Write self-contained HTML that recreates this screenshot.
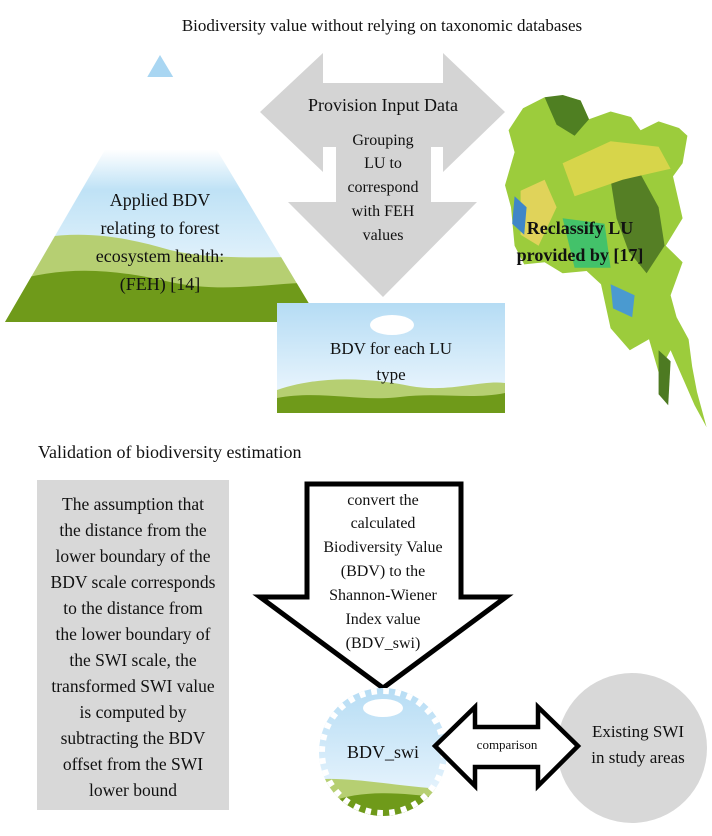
<!DOCTYPE html>
<html><head><meta charset="utf-8"><style>
html,body{margin:0;padding:0;background:#fff;}
svg{display:block;}
text{font-family:"Liberation Serif",serif;fill:#111;}
</style></head><body>
<svg width="712" height="836" viewBox="0 0 712 836" xmlns="http://www.w3.org/2000/svg">
<defs>
<linearGradient id="sky2" x1="0" y1="0" x2="0" y2="1">
<stop offset="0" stop-color="#b5dcf4"/><stop offset="1" stop-color="#f4faff"/>
</linearGradient>
<linearGradient id="tri" x1="0" y1="0" x2="0" y2="1">
<stop offset="0" stop-color="#ffffff"/><stop offset="0.35" stop-color="#ffffff"/><stop offset="0.5" stop-color="#bfe2f6"/><stop offset="1" stop-color="#ffffff"/>
</linearGradient>
<clipPath id="triclip"><polygon points="160,55 5,322 320,322"/></clipPath>
<clipPath id="badge"><circle cx="383" cy="752" r="64"/></clipPath>
</defs>

<text x="382" y="31" font-size="17" text-anchor="middle">Biodiversity value without relying on taxonomic databases</text>

<!-- triangle -->
<g clip-path="url(#triclip)">
<rect x="0" y="55" width="330" height="270" fill="url(#tri)"/>
<rect x="0" y="55" width="330" height="22" fill="#a9d6f2"/>
<rect x="0" y="77" width="330" height="35" fill="#fff"/>
<path d="M0,250 C60,225 120,235 170,250 C220,262 280,255 330,258 L330,330 L0,330Z" fill="#b6cf72"/>
<path d="M0,285 C60,265 110,268 170,282 C230,295 280,280 330,283 L330,330 L0,330Z" fill="#6f9a1a"/>
</g>
<g font-size="18" text-anchor="middle">
<text x="160" y="206">Applied BDV</text>
<text x="160" y="234">relating to forest</text>
<text x="160" y="262">ecosystem health:</text>
<text x="160" y="290">(FEH) [14]</text>
</g>

<!-- gray arrows -->
<polygon points="323,53 323,83 443,83 443,53 505,112 443,172 443,147 431,147 431,202 477,202 383,297 288,202 336,202 336,147 323,147 323,172 260,112" fill="#d4d4d4"/>
<text x="383" y="111" font-size="18" text-anchor="middle">Provision Input Data</text>
<g font-size="16" text-anchor="middle">
<text x="383" y="145">Grouping</text>
<text x="383" y="168">LU to</text>
<text x="383" y="192">correspond</text>
<text x="383" y="216">with FEH</text>
<text x="383" y="240">values</text>
</g>

<!-- map -->
<g transform="translate(505,95) scale(1.2,1.1) translate(-512,-98)">
<path d="M527,110 L545,100 L555,115 L560,98 L575,103 L582,120 L600,113 L617,118 L625,130 L640,122 L657,128 L664,135 L660,160 L652,172 L660,210 L646,235 L660,250 L650,280 L655,300 L665,320 L668,345 L672,368 L680,400 L670,380 L660,355 L650,330 L640,350 L632,320 L616,330 L600,310 L592,270 L580,258 L560,260 L545,250 L528,252 L520,235 L517,200 L512,180 L520,150 L515,130 Z" fill="#9ccc3c"/>
<path d="M545,100 L560,98 L575,103 L582,120 L570,135 L555,125 Z" fill="#4f7f22"/>
<path d="M600,175 L625,170 L640,200 L645,235 L630,260 L615,240 L605,210 Z" fill="#557f25"/>
<path d="M560,160 L600,140 L640,145 L650,165 L610,175 L570,190 Z" fill="#d7d54a"/>
<path d="M525,185 L545,175 L555,200 L540,235 L525,225 Z" fill="#e0d35a"/>
<path d="M520,190 L530,200 L528,225 L518,215Z" fill="#3f86c8"/>
<path d="M600,270 L620,280 L618,300 L602,292Z" fill="#4a9ad0"/>
<path d="M560,210 L595,215 L600,255 L570,255Z" fill="#43c26a"/>
<path d="M640,330 L650,340 L648,380 L640,370Z" fill="#4d7a22"/>
</g>
<g font-size="18" font-weight="bold" text-anchor="middle">
<text x="580" y="234">Reclassify LU</text>
<text x="580" y="261">provided by [17]</text>
</g>

<!-- BDV for each LU -->
<rect x="277" y="303" width="228" height="110" fill="url(#sky2)"/>
<ellipse cx="392" cy="325" rx="22" ry="10" fill="#fff"/>
<path d="M277,390 C320,375 370,378 410,386 C450,393 480,380 505,383 L505,413 L277,413Z" fill="#b6cf72"/>
<path d="M277,398 C320,390 360,402 400,397 C440,392 470,400 505,393 L505,413 L277,413Z" fill="#6f9a1a"/>
<g font-size="17" text-anchor="middle">
<text x="391" y="354">BDV for each LU</text>
<text x="391" y="380">type</text>
</g>

<text x="38" y="458" font-size="18">Validation of biodiversity estimation</text>

<!-- gray text box -->
<rect x="37" y="480" width="192" height="330" fill="#d8d8d8"/>
<g font-size="17.5" text-anchor="middle">
<text x="133" y="510">The assumption that</text>
<text x="133" y="536">the distance from the</text>
<text x="133" y="562">lower boundary of the</text>
<text x="133" y="588">BDV scale corresponds</text>
<text x="133" y="614">to the distance from</text>
<text x="133" y="640">the lower boundary of</text>
<text x="133" y="666">the SWI scale, the</text>
<text x="133" y="692">transformed SWI value</text>
<text x="133" y="718">is computed by</text>
<text x="133" y="744">subtracting the BDV</text>
<text x="133" y="770">offset from the SWI</text>
<text x="133" y="796">lower bound</text>
</g>

<!-- outline down arrow -->
<polygon points="307,484 461,484 461,597 506,597 383,688 260,597 307,597" fill="#fff" stroke="#000" stroke-width="5" stroke-linejoin="miter"/>
<g font-size="16" text-anchor="middle">
<text x="383" y="505">convert the</text>
<text x="383" y="528">calculated</text>
<text x="383" y="552">Biodiversity Value</text>
<text x="383" y="576">(BDV) to the</text>
<text x="383" y="600">Shannon-Wiener</text>
<text x="383" y="624">Index value</text>
<text x="383" y="648">(BDV_swi)</text>
</g>

<!-- badge -->
<g clip-path="url(#badge)">
<rect x="310" y="685" width="150" height="140" fill="url(#sky2)"/>
<ellipse cx="383" cy="708" rx="20" ry="9" fill="#fff"/>
<path d="M310,780 C350,775 400,788 460,790 L460,830 L310,830Z" fill="#b6cf72"/>
<path d="M330,802 C360,790 400,792 440,798 L460,830 L310,830Z" fill="#6f9a1a"/>
<circle cx="383" cy="752" r="64" fill="none" stroke="#fff" stroke-width="12" stroke-dasharray="6 6.57"/>
</g>
<text x="383" y="758" font-size="18" text-anchor="middle">BDV_swi</text>

<!-- circle -->
<circle cx="632" cy="748" r="75" fill="#d8d8d8"/>
<g font-size="17" text-anchor="middle">
<text x="638" y="737">Existing  SWI</text>
<text x="638" y="763">in study areas</text>
</g>

<!-- double arrow -->
<polygon points="435,746 475,707 475,727 538,727 538,707 578,746 538,786 538,767 475,767 475,786" fill="#fff" stroke="#000" stroke-width="4.5"/>
<text x="507" y="749" font-size="13" text-anchor="middle">comparison</text>
</svg>
</body></html>
